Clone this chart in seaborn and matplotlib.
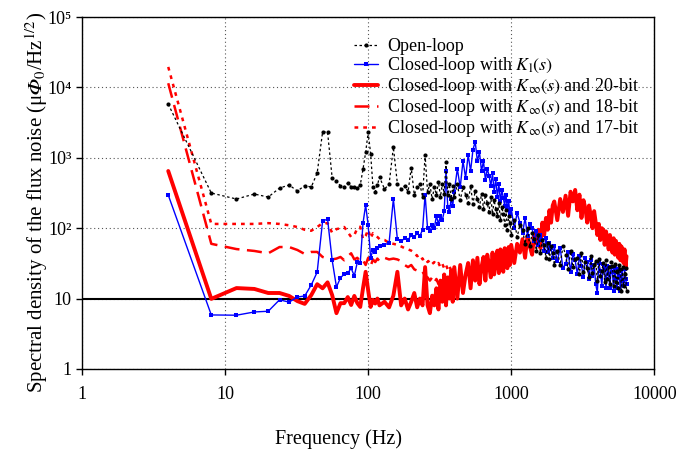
import numpy as np
import pandas as pd
import matplotlib
matplotlib.use("Agg")
import matplotlib.pyplot as plt
import seaborn as sns
from matplotlib.ticker import FixedLocator, FixedFormatter, NullLocator

# ---------------- data ----------------
freq = [4, 8, 12, 16, 20, 24, 28, 32, 36, 40, 44, 48, 52, 56, 60, 64, 68, 72, 76, 80,
        84, 88, 92, 96, 100, 104, 108, 112, 116, 120,
        130, 140, 150, 160, 170, 180, 190, 200, 210, 220, 230, 240, 250, 260, 270, 280,
        290, 300, 310, 320, 330, 340, 350, 360, 370, 380, 390, 400,
        420, 440, 460, 480, 500, 520, 540, 560, 580, 600, 620, 640, 660, 680, 700, 720,
        740, 760, 780, 800, 820, 840, 860, 880, 900, 920, 940, 960, 980, 1000,
        1050, 1100, 1150, 1200, 1250, 1300, 1350, 1400, 1450, 1500, 1550, 1600, 1650,
        1700, 1750, 1800, 1850, 1900, 1950, 2000,
        2100, 2200, 2300, 2400, 2500, 2600, 2700, 2800, 2900, 3000, 3100, 3200, 3300,
        3400, 3500, 3600, 3700, 3800, 3900, 4000, 4100, 4200, 4300, 4400, 4500, 4600,
        4700, 4800, 4900, 5000, 5100, 5200, 5300, 5400, 5500, 5600, 5700, 5800, 5900,
        6000, 6100, 6200, 6300, 6400]

open_loop = [5800, 316, 260, 306, 277, 372, 411, 338, 403, 385, 610, 2330, 2330, 517, 467,
             400, 385, 440, 385, 385, 372, 410, 690, 1200, 2300, 1150, 385, 330, 410, 535,
             360, 420, 1420, 430, 360, 400, 330, 720, 300, 380, 420, 280, 1100, 330, 420,
             260, 380, 300, 460, 280, 420, 310, 860, 300, 420, 260, 400, 280,
             420, 250, 380, 300, 230, 400, 220, 340, 260, 200, 310, 190, 300, 230, 170,
             280, 160, 250, 190, 150, 230, 130, 200, 160, 110, 180, 95, 150, 120, 80,
             130, 75, 110, 95, 60, 100, 55, 85, 70, 48, 80, 44, 68, 58, 38, 62, 36, 55, 45, 30,
             48, 30, 55, 42, 26, 47, 28, 36, 38, 22, 44, 24, 33, 27, 20, 40, 23, 30, 34, 18,
             37, 21, 25, 32, 17, 35, 19, 28, 16, 33, 29, 15, 31, 17, 25, 14, 30, 26, 13, 28,
             15, 22, 27, 13]

closed_kl = [296, 5.85, 5.8, 6.45, 6.6, 9.6, 8.9, 10.5, 10.9, 15.6, 23.8, 126, 135, 35, 14.6,
             19.7, 22.3, 23, 27, 21, 33, 32, 118, 214, 110, 38, 49, 46, 52, 55,
             58, 62, 260, 70, 65, 72, 68, 80, 75, 85, 78, 95, 300, 100, 90, 110, 100, 150,
             115, 150, 130, 175, 650, 200, 170, 260, 210, 330,
             700, 380, 900, 520, 1100, 650, 1300, 1700, 900, 1200, 650, 900, 480, 700, 560,
             400, 600, 330, 500, 280, 420, 240, 350, 270, 210, 300, 180, 240, 160, 190,
             100, 165, 120, 85, 140, 78, 115, 100, 65, 92, 58, 80, 68, 48, 72, 46, 62, 52, 38, 55,
             34, 52, 27, 31, 46, 24, 43, 35, 22, 40, 29, 20, 38, 33, 19, 35, 21, 30, 16, 12,
             32, 25, 15, 31, 27, 14, 29, 22, 14, 28, 24, 13, 27, 19, 14, 26, 21, 13, 25, 18,
             15, 26, 19, 16]

closed_20bit = [650, 9.9, 14.1, 13.7, 12, 12, 10.9, 9.2, 8.4, 11.2, 16, 14, 17, 11.2, 6.2,
                8.6, 8.6, 10.5, 8.1, 10.9, 8.6, 7.6, 14, 24, 13, 7.6, 9.6, 8.5, 10, 8,
                9, 7.5, 11, 24, 8, 10, 7, 9, 12, 7.5, 10, 8, 28, 8, 6.2, 11, 8, 14, 7, 18,
                9, 22, 8, 20, 10, 25, 9, 28,
                10, 30, 12, 22, 32, 14, 35, 18, 38, 16, 28, 39, 18, 42, 30, 20, 45, 22, 35, 48,
                23, 50, 32, 24, 52, 38, 27, 54, 30, 58,
                32, 60, 45, 70, 38, 78, 55, 42, 85, 60, 95, 52, 120, 80, 140, 95, 180, 120, 210, 240,
                130, 260, 170, 290, 150, 330, 240, 350, 180, 300, 140, 250, 190, 120, 210, 150,
                100, 175, 120, 80, 115, 68, 100, 95, 58, 90, 70, 50, 80, 62, 45, 72, 42, 66, 52, 38,
                60, 35, 55, 44, 32, 50, 28, 40]

closed_18bit = [11500, 60, 50.5, 47.5, 44, 54, 54, 49, 43, 46, 46, 39, 37, 36, 37, 39, 35, 40,
                44, 36, 38, 33, 35, 30, 38, 29, 36, 33, 37, 34,
                38, 36, 37, 36, 34, 30, 28, 30, 26, 25, 23, 24, 21, 20, 18, 20, 17, 19, 16, 18,
                15, 17, 15, 16, 14, 16, 14, 15]

closed_17bit = [19600, 115, 115, 115, 118, 115, 110, 104, 95, 92, 104, 118, 118, 86, 97, 100,
                104, 88, 75, 80, 100, 105, 70, 78, 95, 72, 85, 80, 75, 70,
                68, 62, 60, 58, 55, 52, 50, 48, 45, 40, 42, 36, 38, 33, 35, 31, 33, 30, 32, 28,
                31, 27, 30, 26, 29, 25, 28, 24]

labels = ["Open-loop",
          r"Closed-loop with $K_{\mathrm{l}}(s)$",
          r"Closed-loop with $K_{\infty}(s)$ and 20-bit",
          r"Closed-loop with $K_{\infty}(s)$ and 18-bit",
          r"Closed-loop with $K_{\infty}(s)$ and 17-bit"]
x_ticks = [1, 10, 100, 1000, 10000]
x_ticklabels = ["1", "10", "100", "1000", "10000"]
y_ticks = [1, 10, 100, 1000, 10000, 100000]
y_ticklabels = ["1", "10", "10\u00b2", "10\u00b3", "10\u2074", "10\u2075"]

# ---------------- style ----------------
sns.set_style("ticks")
plt.rcParams["font.family"] = ["Liberation Serif", "DejaVu Serif"]
plt.rcParams["mathtext.fontset"] = "stix"
plt.rcParams["text.color"] = "black"
plt.rcParams["axes.labelcolor"] = "black"
plt.rcParams["xtick.color"] = "black"
plt.rcParams["ytick.color"] = "black"

df_main = pd.DataFrame({"freq": freq, "open": open_loop, "kl": closed_kl, "b20": closed_20bit})
n_low = len(closed_18bit)
df_low = pd.DataFrame({"freq": freq[:n_low], "b18": closed_18bit, "b17": closed_17bit})

fig, ax = plt.subplots(figsize=(6.96, 4.51), dpi=100)
fig.subplots_adjust(left=0.118, right=0.94, top=0.962, bottom=0.182)

common = dict(ax=ax, estimator=None, sort=False, legend=False)
sns.lineplot(data=df_main, x="freq", y="b20", color="#ff0000", linewidth=2.8, **common)
h20 = ax.lines[-1]
sns.lineplot(data=df_low, x="freq", y="b18", color="#ff0000", linewidth=1.8, **common)
h18 = ax.lines[-1]
h18.set_linestyle((0, (6, 3)))
sns.lineplot(data=df_low, x="freq", y="b17", color="#ff0000", linewidth=1.8, **common)
h17 = ax.lines[-1]
h17.set_linestyle((0, (1.5, 2)))
sns.lineplot(data=df_main, x="freq", y="kl", color="#0000ff", linewidth=1.0,
             marker="s", markersize=2.8, markeredgewidth=0, **common)
hkl = ax.lines[-1]
sns.lineplot(data=df_main, x="freq", y="open", color="black", linewidth=0.9,
             marker="o", markersize=3.0, markeredgewidth=0, **common)
hopen = ax.lines[-1]
hopen.set_linestyle((0, (2, 2)))

ax.axhline(10, color="black", linewidth=1.5, zorder=1)

ax.set_xscale("log")
ax.set_yscale("log")
ax.set_xlim(1, 10000)
ax.set_ylim(1, 100000)
ax.xaxis.set_major_locator(FixedLocator(x_ticks))
ax.xaxis.set_major_formatter(FixedFormatter(x_ticklabels))
ax.yaxis.set_major_locator(FixedLocator(y_ticks))
ax.yaxis.set_major_formatter(FixedFormatter(y_ticklabels))
ax.xaxis.set_minor_locator(NullLocator())
ax.yaxis.set_minor_locator(NullLocator())
ax.tick_params(axis="both", direction="out", length=4, width=1, labelsize=13, colors="black")
ax.tick_params(axis="x", pad=8)
ax.grid(True, which="major", linestyle=(0, (1, 2.5)), color="#555555", linewidth=0.8)
for s in ax.spines.values():
    s.set_visible(True)
    s.set_color("black")
    s.set_linewidth(1.0)

ax.set_xlabel("Frequency (Hz)", fontsize=14.5, labelpad=19)
ax.xaxis.label.set_x(0.448)
ax.set_ylabel("Spectral density of the flux noise (μ$\U0001D6F7_0$/Hz$^{1/2}$)",
              fontsize=15)
ax.yaxis.set_label_coords(-0.057, 0.474)

ax.legend([hopen, hkl, h20, h18, h17], labels, loc="upper left",
          bbox_to_anchor=(0.476, 0.94), frameon=False, fontsize=13,
          handlelength=1.3, handletextpad=0.5, labelspacing=0.0, borderaxespad=0,
          borderpad=0)

fig.savefig("out.png", dpi=100)
